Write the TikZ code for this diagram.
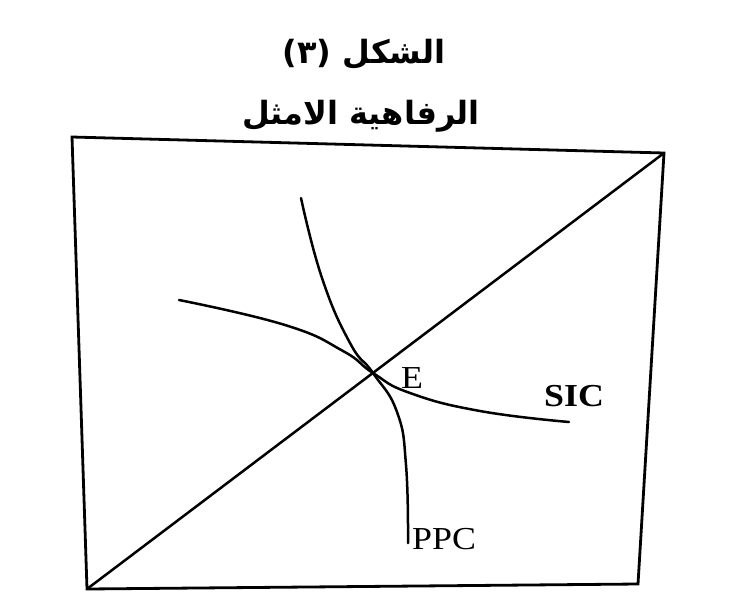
\documentclass[tikz,border=0pt]{standalone}
\usepackage{fontspec}
\setmainfont{Liberation Serif}
\newfontfamily\arabicfont[Script=Arabic]{DejaVu Sans}
\TeXXeTstate=1
\tikzset{
    curve/.style={line width=2.5pt, line cap=round},
    frame/.style={line width=2.8pt, line join=miter},
    lbl/.style={inner sep=0pt, xscale=1.12, font=\fontsize{32}{32}\selectfont},
    title/.style={inner sep=0pt, font=\arabicfont\bfseries\fontsize{32}{33}\selectfont}
}
\begin{document}
\begin{tikzpicture}[x=1pt, y=-1pt]
        \useasboundingbox (0,0) rectangle (741,608);

        % Titles
        \node[title] (t1) at (364,54) {\beginR الشكل (٣)\endR};
        \node[title] (t2) at (361,116) {\beginR الرفاهية الامثل\endR};

        % Frame (photographed, slightly skewed)
        \coordinate (tl) at (72,137);
        \coordinate (tr) at (664,153);
        \coordinate (br) at (638,584);
        \coordinate (bl) at (87,589);
        \draw[frame] (tl) -- (tr) -- (br) -- (bl) -- cycle;

        % Diagonal
        \draw[curve] (bl) -- (tr);

        % PPC
        \draw[curve] plot[smooth, tension=0.8] coordinates {(301,198) (322,278) (350,343) (373,373) (397,412) (406,465) (408,543)};

        % SIC
        \draw[curve] plot[smooth, tension=0.8] coordinates {(179,300) (285,325) (343,351) (373,373) (410,393) (480,411) (569,422)};

        % Labels
        \coordinate (E) at (373,373);
        \node[lbl, anchor=base west] (e) at (401,388) {E};
        \node[lbl, anchor=base west, font=\bfseries\fontsize{32}{32}\selectfont] (sic) at (544,406) {SIC};
        \node[lbl, anchor=base west] (ppc) at (412,549) {PPC};
    \end{tikzpicture}
\end{document}
